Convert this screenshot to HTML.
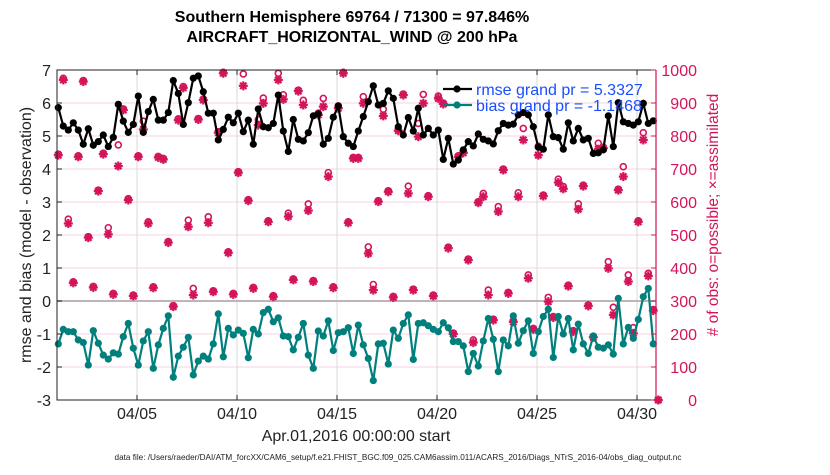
<!DOCTYPE html>
<html><head><meta charset="utf-8"><style>
body{margin:0;background:#fff;font-family:"Liberation Sans",sans-serif}
svg text{font-family:"Liberation Sans",sans-serif}
</style></head><body>
<svg id="chart" width="830" height="470" xmlns="http://www.w3.org/2000/svg"></svg>
<script>
const rmse=[5.86,5.30,5.18,5.40,5.18,4.75,5.22,4.72,4.83,5.03,4.68,4.96,5.96,5.45,5.11,5.35,6.21,5.11,5.74,6.11,5.48,5.48,5.71,6.68,6.29,5.35,6.01,6.75,6.82,6.34,
5.69,5.69,4.88,5.20,5.57,5.40,5.69,5.13,5.48,4.75,5.82,5.28,5.25,5.38,6.24,5.15,4.53,5.50,4.90,4.85,5.10,5.61,5.67,4.75,4.93,5.57,5.91,4.98,4.78,4.68,
5.15,5.59,6.04,6.52,5.94,5.99,6.37,6.14,5.28,5.03,5.56,5.15,5.84,5.03,5.23,5.03,5.18,4.29,4.93,4.15,4.27,4.58,4.83,4.70,5.06,4.90,4.85,4.76,5.16,5.38,
5.33,5.36,5.64,5.71,5.64,5.28,4.66,4.60,5.64,4.98,4.95,4.60,5.40,4.85,5.23,4.88,4.93,4.47,4.49,4.58,5.61,4.68,6.01,5.43,5.38,5.33,5.43,5.99,5.38,5.46];
const bias=[-1.30,-0.86,-0.93,-0.93,-1.18,-1.26,-1.94,-0.90,-1.28,-1.64,-1.76,-1.57,-1.61,-1.08,-0.68,-1.43,-1.94,-1.21,-0.93,-2.04,-1.33,-0.83,-0.45,-2.31,-1.67,-1.40,-1.10,-2.24,-1.82,-1.67,
-1.76,-1.30,-0.39,-1.69,-0.83,-1.03,-0.88,-0.98,-1.72,-0.86,-1.00,-0.35,-0.25,-0.63,-0.51,-1.06,-1.08,-1.48,-1.10,-0.68,-1.64,-2.04,-0.91,-1.06,-0.60,-1.50,-0.96,-0.93,-0.81,-1.59,
-0.73,-1.33,-1.74,-2.41,-1.30,-1.28,-1.91,-0.88,-1.13,-0.68,-0.42,-1.77,-0.68,-0.66,-0.75,-0.86,-0.93,-0.66,-0.81,-1.23,-1.23,-1.36,-2.14,-1.59,-1.97,-1.21,-0.53,-1.16,-2.14,-1.18,
-1.36,-0.45,-1.28,-0.90,-0.60,-1.59,-0.93,-0.47,-0.25,-1.71,-0.47,-1.00,-0.53,-1.48,-0.70,-1.30,-1.59,-1.06,-1.40,-1.43,-1.33,-1.61,0.08,-1.30,-0.80,-1.13,-0.56,0.13,0.38,-1.30];
const nAssim=[742,970,535,355,737,965,492,341,633,745,502,320,709,879,606,315,737,820,535,340,735,729,477,283,848,946,525,318,850,909,
537,328,810,990,446,320,689,952,604,338,833,899,540,313,970,911,556,364,936,894,574,359,864,889,677,340,884,990,537,732,
732,899,444,333,601,861,631,311,816,924,626,333,798,899,616,315,914,897,460,200,737,749,424,174,598,616,318,242,571,697,
323,237,616,788,369,214,742,618,298,250,659,640,345,207,578,648,285,190,760,763,399,258,636,677,359,202,540,788,376,271,0];
const nPoss=[745,975,548,358,740,968,495,344,636,748,522,323,773,882,610,318,740,845,540,343,738,732,480,286,852,950,545,338,853,912,
555,331,813,993,449,323,692,988,607,341,850,915,543,316,990,925,566,367,939,908,594,362,869,914,689,343,891,993,540,735,
735,919,464,350,604,881,634,314,819,927,648,336,838,926,619,318,921,900,463,203,740,752,427,182,601,626,333,245,586,700,
326,240,628,823,379,217,769,621,311,253,669,647,348,210,594,651,288,193,778,766,419,281,639,707,379,219,543,810,384,274,0];
const leftTicks=[-3,-2,-1,0,1,2,3,4,5,6,7];
const rightTicks=[0,100,200,300,400,500,600,700,800,900,1000];
const dateTicks=[4,9,14,19,24,29];
const dateLabels=["04/05","04/10","04/15","04/20","04/25","04/30"];

const L=57,R=656,T=70,B=400,NS="http://www.w3.org/2000/svg";
const X=d=>L+d*20;
const Y=v=>T+(7-v)*(B-T)/10;
const YR=c=>B-c*(B-T)/1000;
const dayOf=i=>0.065+i*0.25;
const svg=document.getElementById('chart');
function mk(tag,at,parent){const e=document.createElementNS(NS,tag);for(const k in at)e.setAttribute(k,at[k]);(parent||svg).appendChild(e);return e;}
function txt(s,at){const e=mk('text',at);e.textContent=s;return e;}

leftTicks.forEach(v=>{if(v===0||v===7||v===-3)return;
 const g=mk('line',{x1:L,x2:R,y1:Y(v),y2:Y(v),stroke:'#f6d3e2','stroke-width':1});
 
 });
dateTicks.forEach(d=>{const g=mk('line',{x1:X(d),x2:X(d),y1:T,y2:B,stroke:'#d8d8d8','stroke-width':1});
 
 });
const zl=mk('line',{x1:L,x2:R,y1:Y(0),y2:Y(0),stroke:'#bdb5b8','stroke-width':2});



function star(cx,cy,g){const r=4.5;for(let k=0;k<4;k++){const a=k*Math.PI/4;mk('line',{x1:cx-r*Math.cos(a),y1:cy-r*Math.sin(a),x2:cx+r*Math.cos(a),y2:cy+r*Math.sin(a),stroke:'#d4145a','stroke-width':2.2},g);}}
nAssim.forEach((c,i)=>{const g=mk('g',{});
 
 
 star(X(dayOf(i)),YR(c),g);});
nPoss.forEach((c,i)=>{const e=mk('circle',{cx:X(dayOf(i)),cy:YR(c),r:3,fill:'none',stroke:'#d4145a','stroke-width':1.6});
 
 });

function series(vals,color,name){
 const p=mk('polyline',{points:vals.map((v,i)=>X(dayOf(i))+','+Y(v)).join(' '),fill:'none',stroke:color,'stroke-width':2.2});
 
 
 vals.forEach((v,i)=>{const c=mk('circle',{cx:X(dayOf(i)),cy:Y(v),r:3.6,fill:color});
  
  });
}
series(rmse,'#000000','rmse');
series(bias,'#00807d','bias');

const fr=mk('path',{d:`M${R},${T}H${L}V${B}H${R}`,fill:'none',stroke:'#222','stroke-width':1});


const ra=mk('line',{x1:R,x2:R,y1:T,y2:B,stroke:'#d4145a','stroke-width':1.2});



leftTicks.forEach(v=>{mk('line',{x1:L,x2:L+5,y1:Y(v),y2:Y(v),stroke:'#222'});
 const t=txt(String(v),{x:L-6,y:Y(v)+6,'text-anchor':'end','font-size':16,fill:'#222'});
 
 });
rightTicks.forEach(c=>{mk('line',{x1:R-5,x2:R,y1:YR(c),y2:YR(c),stroke:'#d4145a'});
 const t=txt(String(c),{x:697,y:YR(c)+6,'text-anchor':'end','font-size':16,fill:'#d4145a'});
 
 });
dateTicks.forEach((d,k)=>{mk('line',{x1:X(d),x2:X(d),y1:B,y2:B-5,stroke:'#222'});mk('line',{x1:X(d),x2:X(d),y1:T,y2:T+5,stroke:'#222'});
 const t=txt(dateLabels[k],{x:X(d),y:B+19,'text-anchor':'middle','font-size':16,fill:'#222'});
 
 });
</script>
<script>
(function(){
const s=document.getElementById('chart');const NS="http://www.w3.org/2000/svg";
function t(str,at,name){const e=document.createElementNS(NS,'text');for(const k in at)e.setAttribute(k,at[k]);e.textContent=str;
 
 s.appendChild(e);return e;}
t('Southern Hemisphere 69764 / 71300 = 97.846%',{x:352,y:22,'text-anchor':'middle','font-size':16,'font-weight':'bold',fill:'#000'},'chart-title');
t('AIRCRAFT_HORIZONTAL_WIND @ 200 hPa',{x:352,y:42,'text-anchor':'middle','font-size':16,'font-weight':'bold',fill:'#000'},'chart-subtitle');
t('rmse and bias (model - observation)',{x:0,y:0,transform:'translate(31,235) rotate(-90)','text-anchor':'middle','font-size':16,fill:'#222'},'left-axis-title');
t('# of obs: o=possible; \u00d7=assimilated',{x:0,y:0,transform:'translate(718,215) rotate(-90)','text-anchor':'middle','font-size':15.5,fill:'#d4145a'},'right-axis-title');
t('Apr.01,2016 00:00:00 start',{x:356,y:441,'text-anchor':'middle','font-size':16,fill:'#222'},'x-axis-title');
t('data file: /Users/raeder/DAI/ATM_forcXX/CAM6_setup/f.e21.FHIST_BGC.f09_025.CAM6assim.011/ACARS_2016/Diags_NTrS_2016-04/obs_diag_output.nc',{x:398,y:460,'text-anchor':'middle','font-size':8.2,fill:'#222'},'data-file-note');
const g=document.createElementNS(NS,'g');s.appendChild(g);
[['#000','rmse grand pr = 5.3327',89],['#00807d','bias grand pr = -1.1468',105]].forEach(([c,l,y])=>{
 const ln=document.createElementNS(NS,'line');ln.setAttribute('x1',443);ln.setAttribute('x2',472);ln.setAttribute('y1',y);ln.setAttribute('y2',y);ln.setAttribute('stroke',c);ln.setAttribute('stroke-width',2.2);g.appendChild(ln);
 const ci=document.createElementNS(NS,'circle');ci.setAttribute('cx',457);ci.setAttribute('cy',y);ci.setAttribute('r',3.6);ci.setAttribute('fill',c);g.appendChild(ci);
 const tx=document.createElementNS(NS,'text');tx.setAttribute('x',476);tx.setAttribute('y',y+6);tx.setAttribute('font-size',16);tx.setAttribute('fill','#1a4dff');tx.textContent=l;
 
 g.appendChild(tx);});
})();
</script>
</body></html>
